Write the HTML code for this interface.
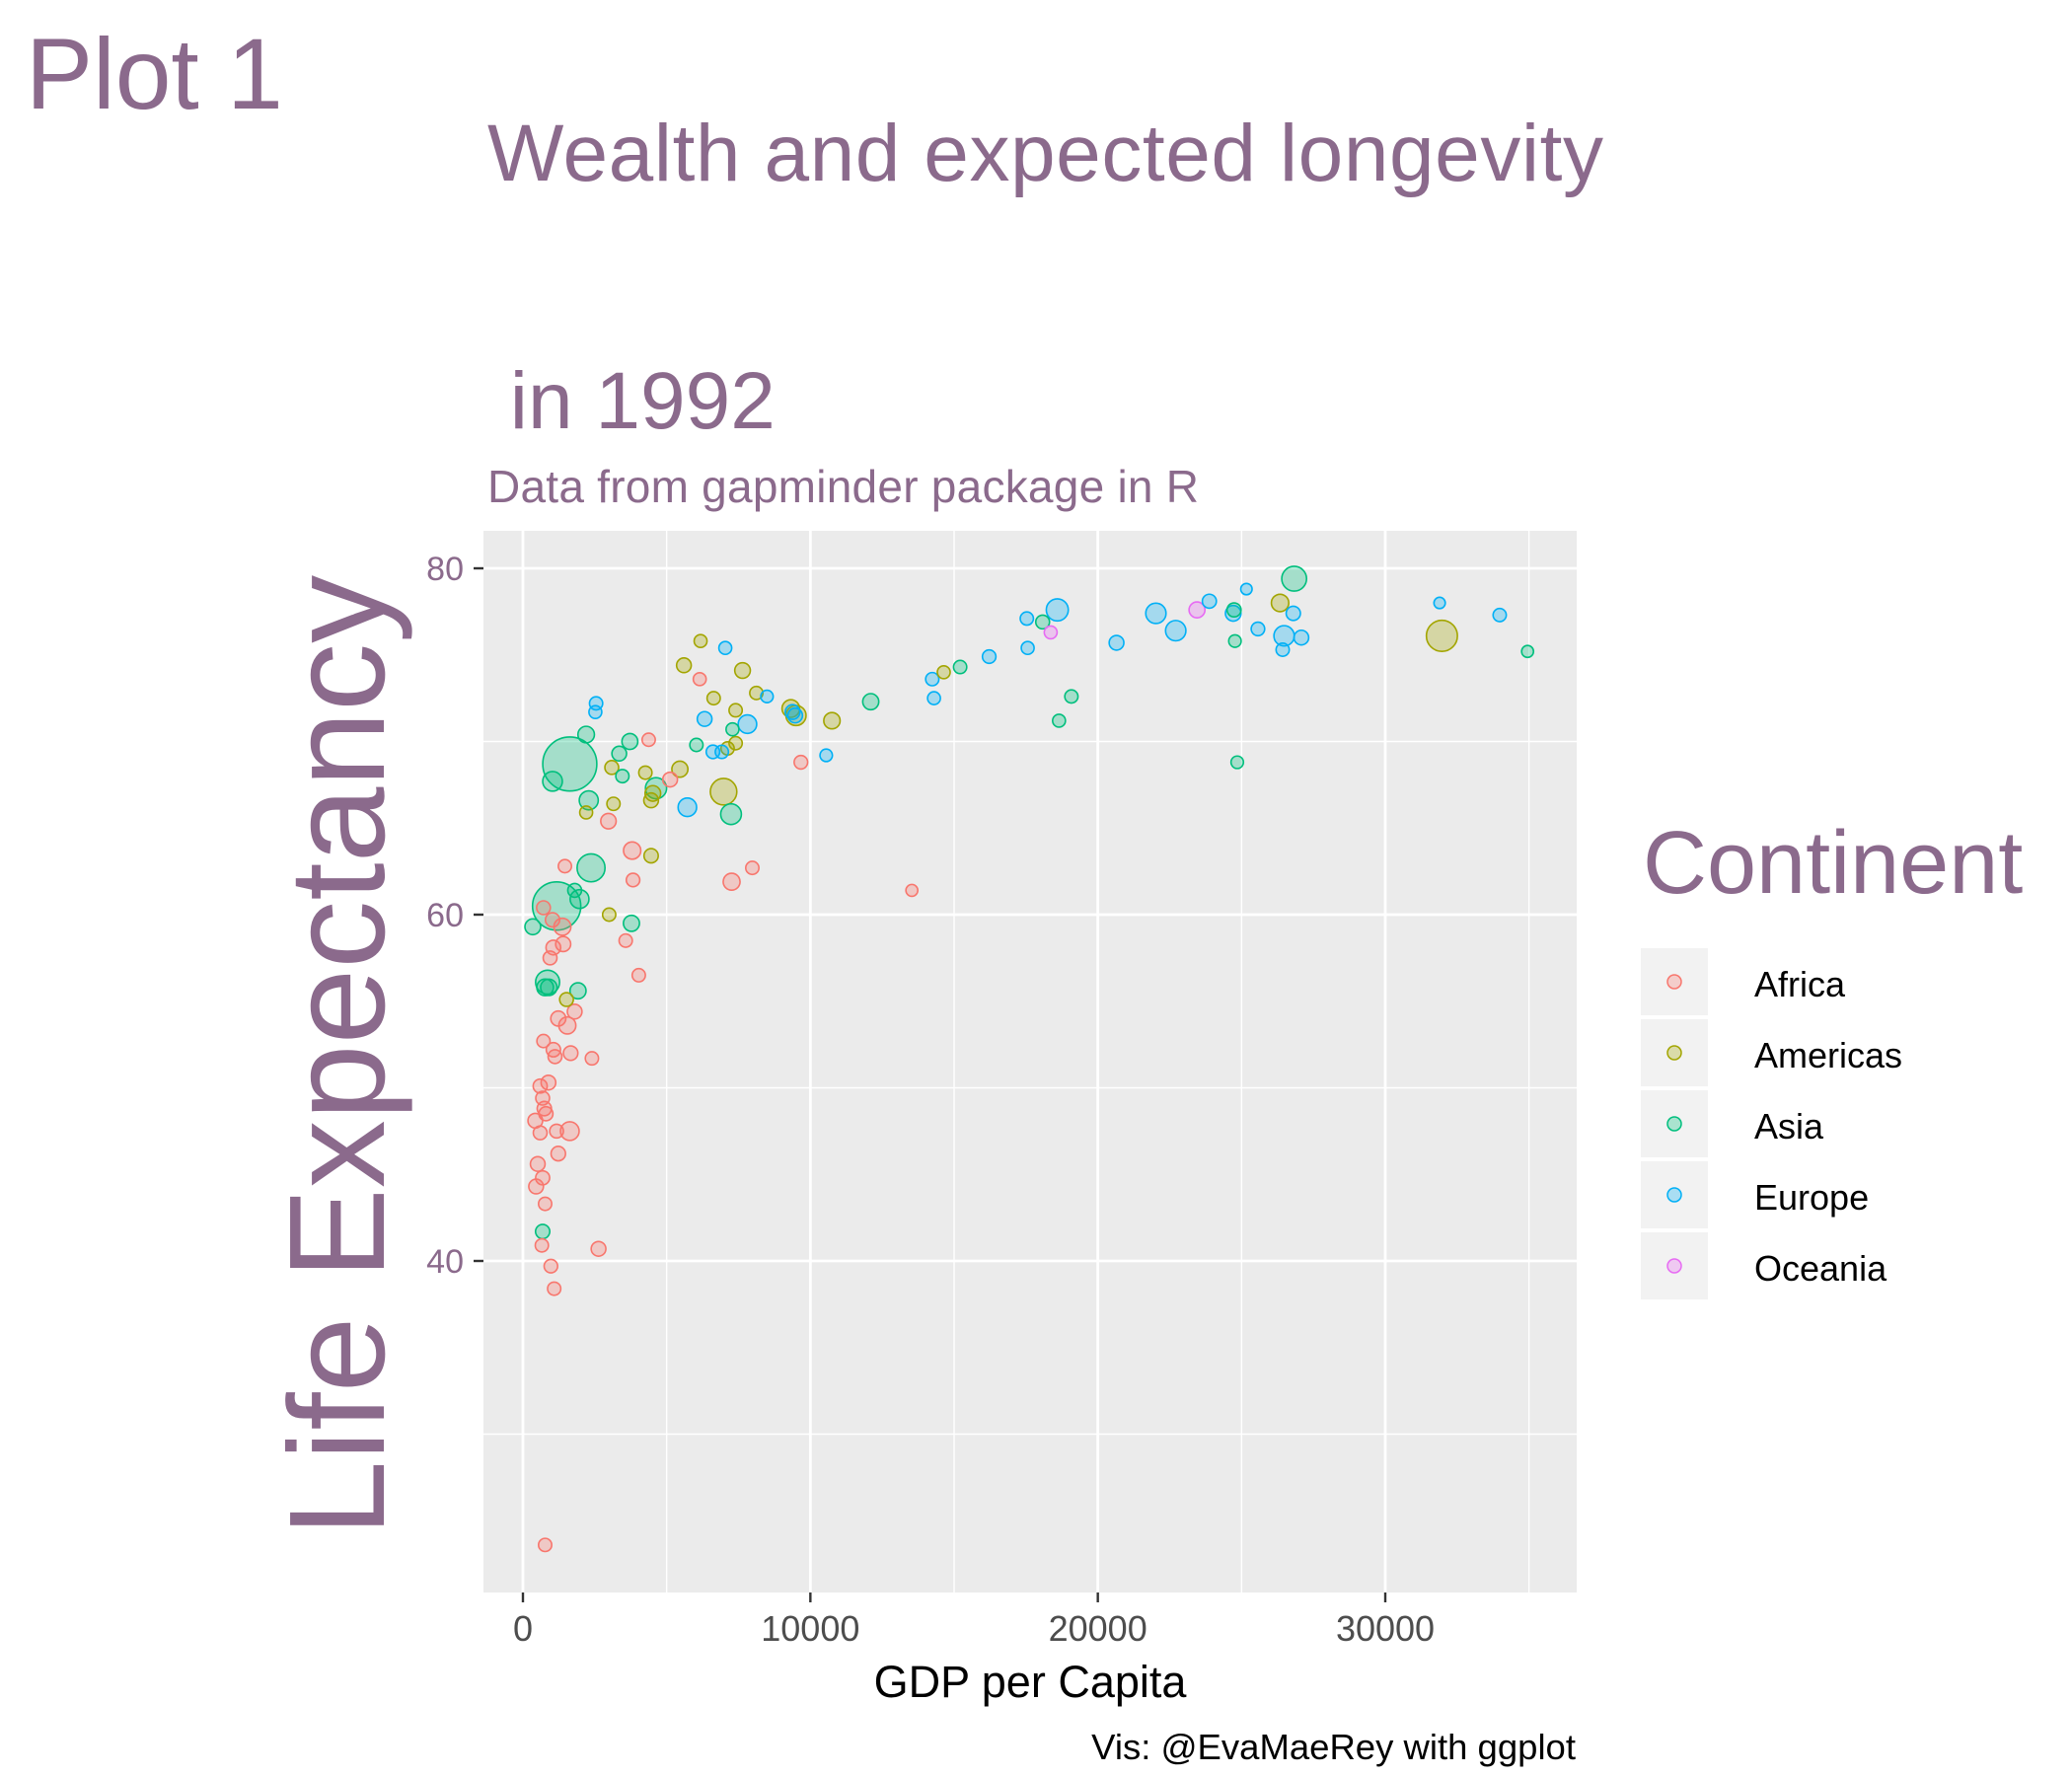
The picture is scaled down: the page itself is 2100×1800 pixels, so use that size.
<!DOCTYPE html>
<html><head><meta charset="utf-8"><style>
body{margin:0;background:#fff;}
svg{display:block;font-family:"Liberation Sans",Arial,sans-serif;}
</style></head><body>
<svg id="chart" width="2100" height="1800" viewBox="0 0 2100 1800" xmlns="http://www.w3.org/2000/svg">
<rect width="2100" height="1800" fill="#fff"/>
<text x="26" y="110" font-size="102" fill="#8B6A8C">Plot 1</text>
<text x="494" y="183" font-size="82" fill="#8B6A8C" textLength="1131">Wealth and expected longevity</text>
<text x="494" y="434" font-size="82" fill="#8B6A8C" xml:space="preserve"> in 1992</text>
<text x="494" y="509" font-size="46" fill="#8B6A8C" textLength="721">Data from gapminder package in R</text>
<rect x="490" y="538" width="1108" height="1076" fill="#EBEBEB"/>
<g id="grid"></g>
<g id="points"></g>
<g id="axes"></g>
<text transform="translate(389,1070) rotate(-90)" text-anchor="middle" font-size="138" fill="#8B6A8C">Life Expectancy</text>
<text x="1044" y="1720" text-anchor="middle" font-size="45" fill="#000">GDP per Capita</text>
<text x="1597" y="1783" text-anchor="end" font-size="36.5" fill="#000">Vis: @EvaMaeRey with ggplot</text>
<text x="1665" y="905" font-size="90" fill="#8B6A8C">Continent</text>
<g id="legend"></g>
</svg>
<script>
const continents=["Africa","Americas","Asia","Europe","Oceania"];
const colors=["#F8766D","#A3A500","#00BF7D","#00B0F6","#E76BF3"];
const xTicks=[0,10000,20000,30000];
const yTicks=[40,60,80];
const xMinor=[5000,15000,25000,35000];
const yMinor=[30,50,70];

const gdpAfrica=[715,1373,1030,1058,1400,944,1460,3830,3800,2975,4375,5120,6150,7260,7980,9670,13530,3575,4030,1230,1800,1545,715,1060,1115,1660,2400,887,600,686,744,800,430,1630,1170,600,1230,515,686,458,772,658,2630,972,1087,772];
const lifeAfrica=[60.4,59.3,59.7,58.1,58.3,57.5,62.8,62.0,63.7,65.4,70.1,67.8,73.6,61.9,62.7,68.8,61.4,58.5,56.5,54.0,54.4,53.6,52.7,52.2,51.8,52.0,51.7,50.3,50.1,49.4,48.8,48.5,48.1,47.5,47.5,47.4,46.2,45.6,44.8,44.3,43.3,40.9,40.7,39.7,38.4,23.6];
const popAfrica=[6,25,8,10,12,6,4,5,27,14,4,10,3,24,4,5,1,4,4,12,10,25,4,8,6,9,4,10,7,6,8,7,10,40,6,6,9,10,7,10,4,4,10,5,4,4];

const gdpAmericas=[6180,5600,7640,6635,8120,7400,9320,9500,10750,4260,3090,5460,6980,7400,7120,3150,4460,4520,2200,4460,3000,1516,14640,26340,31970];
const lifeAmericas=[75.8,74.4,74.1,72.5,72.8,71.8,71.9,71.5,71.2,68.2,68.5,68.4,67.1,69.9,69.6,66.4,66.6,67.0,65.9,63.4,60.0,55.1,74.0,78.0,76.1];
const popAmericas=[3,10,15,4,4,4,30,55,20,4,6,18,155,4,4,4,10,15,3,8,4,6,3,28,256];

const gdpAsia=[1630,1173,1030,2200,3720,3350,3460,4630,2290,7240,2370,1970,1800,3775,343,858,772,900,1916,686,6035,7290,12100,15210,18080,18650,19080,24770,24850,24740,26830,34950];
const lifeAsia=[68.7,60.5,67.7,70.4,70.0,69.3,68.0,67.3,66.6,65.8,62.7,60.9,61.4,59.5,59.3,56.1,55.8,55.8,55.6,41.7,69.8,70.7,72.3,74.3,76.9,71.2,72.6,75.8,68.8,77.6,79.4,75.2];
const popAsia=[1164,872,50,21,17,10,4,68,43,62,184,41,6,18,16,110,22,20,18,8,4,3,18,4,6,3,4,2,2,7,124,1];

const gdpEurope=[2545,2520,7040,6320,8490,7810,6610,6920,9380,9470,5720,10550,14240,14300,16220,17530,17560,18590,20650,22020,22710,23880,25170,24710,25570,26480,26800,26430,27080,31890,33980];
const lifeEurope=[72.2,71.7,75.4,71.3,72.6,71.0,69.4,69.4,71.7,71.5,66.2,69.2,73.6,72.5,74.9,77.1,75.4,77.6,75.7,77.4,76.4,78.1,78.8,77.4,76.5,76.1,77.4,75.3,76.0,78.0,77.3];
const popEurope=[4,3,3,10,2,38,5,4,10,10,38,2,4,3,5,4,3,80,10,57,58,7,0.3,15,5,58,8,4,10,0.3,4];

const gdpOceania=[23450,18360];
const lifeOceania=[77.6,76.3];
const popOceania=[17,3];

const series=[[gdpAfrica,lifeAfrica,popAfrica],[gdpAmericas,lifeAmericas,popAmericas],[gdpAsia,lifeAsia,popAsia],[gdpEurope,lifeEurope,popEurope],[gdpOceania,lifeOceania,popOceania]];
const L=490,R=1598,T=538,B=1614;
const X=v=>530+(v-0)*(1404-530)/30000;
const Y=v=>576+(80-v)*(1278-576)/40;
const RAD=p=>5.4+22*Math.sqrt(p/1164);
const NS="http://www.w3.org/2000/svg";
function mk(tag,attrs,parent){const e=document.createElementNS(NS,tag);for(const k in attrs)e.setAttribute(k,attrs[k]);parent.appendChild(e);return e;}
const grid=document.getElementById('grid');
xMinor.forEach(v=>{const e=mk('line',{x1:X(v),x2:X(v),y1:T,y2:B,stroke:'#fff','stroke-width':1.4},grid);

});
yMinor.forEach(v=>{const e=mk('line',{x1:L,x2:R,y1:Y(v),y2:Y(v),stroke:'#fff','stroke-width':1.4},grid);

});
xTicks.forEach(v=>{const e=mk('line',{x1:X(v),x2:X(v),y1:T,y2:B,stroke:'#fff','stroke-width':2.8},grid);

});
yTicks.forEach(v=>{const e=mk('line',{x1:L,x2:R,y1:Y(v),y2:Y(v),stroke:'#fff','stroke-width':2.8},grid);

});
const pts=document.getElementById('points');
const all=[];
series.forEach((s,ci)=>{const n=Math.min(s[0].length,s[1].length,s[2].length);for(let i=0;i<n;i++)all.push([ci,s[0][i],s[1][i],s[2][i]]);});
all.sort((a,b)=>b[3]-a[3]);
all.forEach(d=>{const c=colors[d[0]];
const e=mk('circle',{cx:X(d[1]),cy:Y(d[2]),r:RAD(d[3]),fill:c,'fill-opacity':0.3,stroke:c,'stroke-width':1.6},pts);

});
const ax=document.getElementById('axes');
xTicks.forEach(v=>{const t=mk('line',{x1:X(v),x2:X(v),y1:B,y2:B+10,stroke:'#333','stroke-width':2.4},ax);


const l=mk('text',{x:X(v),y:1663,'text-anchor':'middle','font-size':36,fill:'#4D4D4D'},ax);l.textContent=v;

});
yTicks.forEach(v=>{const t=mk('line',{x1:L-10,x2:L,y1:Y(v),y2:Y(v),stroke:'#333','stroke-width':2.4},ax);


const l=mk('text',{x:470,y:Y(v)+12,'text-anchor':'end','font-size':34,fill:'#8B6A8C'},ax);l.textContent=v;

});
const lg=document.getElementById('legend');
continents.forEach((n,i)=>{const y0=961+i*72;
const k=mk('rect',{x:1663,y:y0,width:68,height:68,fill:'#F2F2F2'},lg);


const c=mk('circle',{cx:1697,cy:y0+34,r:7,fill:colors[i],'fill-opacity':0.3,stroke:colors[i],'stroke-width':1.5},lg);


const t=mk('text',{x:1778,y:y0+49,'font-size':36,fill:'#000'},lg);t.textContent=n;

});
</script>
</body></html>
